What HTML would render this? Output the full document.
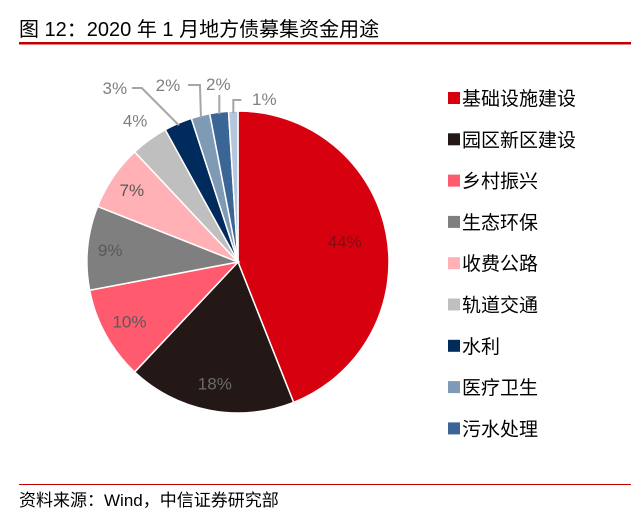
<!DOCTYPE html>
<html><head><meta charset="utf-8"><style>
body{margin:0;background:#fff;width:643px;height:527px;overflow:hidden;font-family:"Liberation Sans","Noto Sans CJK SC",sans-serif;}
</style></head><body>
<svg width="643" height="527" style="position:absolute;left:0;top:0">
<text x="19" y="36" font-size="20" fill="#000" font-family="Liberation Sans, Noto Sans CJK SC, sans-serif">图 12：2020 年 1 月地方债募集资金用途</text>
<rect x="19" y="42" width="612" height="2.5" fill="#c00000"/>
<g id="pie"></g>
<g id="legend"></g>
<rect x="19" y="484" width="612" height="1" fill="#c00000"/>
<text x="19" y="506" font-size="17" fill="#000" font-family="Liberation Sans, Noto Sans CJK SC, sans-serif">资料来源：Wind，中信证券研究部</text>
</svg>
<script>
const categories=["基础设施建设","园区新区建设","乡村振兴","生态环保","收费公路","轨道交通","水利","医疗卫生","污水处理"];
const values=[44,18,10,9,7,4,3,2,2,1];
const colors=["#d7000f","#231815","#ff5a6e","#7f7f7f","#ffb1b5","#bfbfbf","#002b5c","#7f9ab5","#3a6594","#b4c6dc"];
const NS="http://www.w3.org/2000/svg";
const cx=238,cy=262,r=151;
const pie=document.getElementById('pie');
const total=values.reduce((a,b)=>a+b,0);
function pt(a,rr){return [cx+rr*Math.sin(a),cy-rr*Math.cos(a)];}
function leader(points,i){
  const pl=document.createElementNS(NS,'polyline');
  pl.setAttribute('points',points.map(p=>p.join(',')).join(' '));
  pl.setAttribute('fill','none');pl.setAttribute('stroke','#a6a6a6');pl.setAttribute('stroke-width','2');
  
  
  pie.appendChild(pl);
}
let acc=0;let smallIdx=0;
values.forEach((v,i)=>{
  const a0=acc/total*2*Math.PI; acc+=v; const a1=acc/total*2*Math.PI;
  const p0=pt(a0,r),p1=pt(a1,r);
  const large=(a1-a0)>Math.PI?1:0;
  const path=document.createElementNS(NS,'path');
  path.setAttribute('d',`M${cx},${cy}L${p0[0]},${p0[1]}A${r},${r} 0 ${large} 1 ${p1[0]},${p1[1]}Z`);
  path.setAttribute('fill',colors[i]);path.setAttribute('stroke','#fff');path.setAttribute('stroke-width','1.5');
  
  
  pie.appendChild(path);
  const am=(a0+a1)/2;
  const t=document.createElementNS(NS,'text');
  t.setAttribute('font-size','17');t.setAttribute('text-anchor','middle');
  
  
  t.textContent=v+'%';
  t.setAttribute('fill','#7f7f7f');
  if(v>=4){
    const rr=v>=40?0.72*r:(v>=10?0.82*r:0.85*r);
    const p=pt(am,rr);
    t.setAttribute('x',p[0]);t.setAttribute('y',p[1]+6);
    t.setAttribute('fill','#595959');
    if(i===0)t.setAttribute('fill','#8a0a12');
    if(i===1)t.setAttribute('fill','#6b6b6b');
    if(v===4){const q=pt(am,r+24);t.setAttribute('x',q[0]);t.setAttribute('y',q[1]+6);t.setAttribute('fill','#7f7f7f');}
  } else {
    const e=pt(am,r-2);
    if(smallIdx===0){
      leader([e,[e[0]-37,88],[e[0]-47,88]],i);
      t.setAttribute('x',e[0]-64);t.setAttribute('y',94);
    } else if(smallIdx===1){
      leader([e,[e[0]-1,85],[e[0]-13,85]],i);
      t.setAttribute('x',e[0]-33);t.setAttribute('y',91);
    } else if(smallIdx===2){
      leader([e,[e[0],95]],i);
      t.setAttribute('x',e[0]-1);t.setAttribute('y',90);
    } else {
      leader([e,[e[0],100],[e[0]+8,100]],i);
      t.setAttribute('x',e[0]+31);t.setAttribute('y',105);
    }
    smallIdx++;
  }
  pie.appendChild(t);
});
const legend=document.getElementById('legend');
categories.forEach((c,i)=>{
  const y=98+i*41.3;
  const g=document.createElementNS(NS,'g');
  
  
  const s=document.createElementNS(NS,'rect');
  s.setAttribute('x',448);s.setAttribute('y',y-6);s.setAttribute('width',12);s.setAttribute('height',12);s.setAttribute('fill',colors[i]);
  
  
  const t=document.createElementNS(NS,'text');
  t.setAttribute('x',462);t.setAttribute('y',y+7);t.setAttribute('font-size','19');t.setAttribute('fill','#000');
  
  
  t.textContent=c;
  g.appendChild(s);g.appendChild(t);legend.appendChild(g);
});
</script>
</body></html>
